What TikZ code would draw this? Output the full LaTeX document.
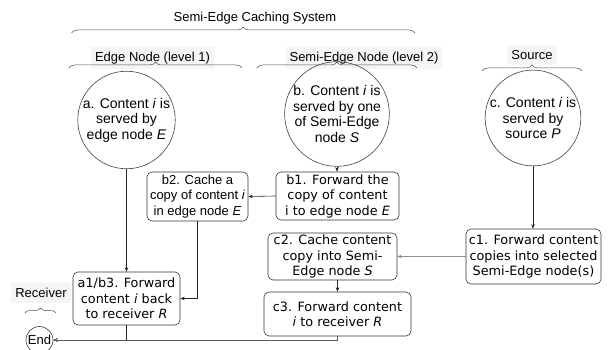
\documentclass[tikz,border=0pt]{standalone}
\usepackage{fontspec}
\setmainfont{Liberation Sans}
\newfontfamily\boxfont{DejaVu Sans}
\usetikzlibrary{arrows.meta,decorations.pathreplacing,calc}

\begin{document}
\begin{tikzpicture}[x=1pt,y=-1pt,
  line width=0.6pt,
  circ/.style={circle, draw=black!75, inner sep=0pt, align=center,
    font=\fontsize{14}{15.5}\selectfont},
  stepbox/.style={rectangle, rounded corners=5pt, draw=black!80, inner sep=0pt,
    align=center, font=\boxfont\fontsize{12.8}{15.5}\selectfont},
  arialbox/.style={stepbox, font=\fontsize{13}{15.5}\selectfont},
  hdr/.style={fill=black!4, inner xsep=4pt, inner ysep=5pt,
    font=\fontsize{13}{15}\selectfont},
  ttl/.style={inner sep=1pt, font=\fontsize{13}{15}\selectfont},
  brc/.style={draw=black!70, line width=0.5pt, decorate,
    decoration={brace, amplitude=6pt}},
  arr/.style={draw=black!85, -{Stealth[length=4.5pt,width=3.5pt]}},
  grayarr/.style={arr, draw=black!45, line width=1pt},
]
\useasboundingbox (0,0) rectangle (616,350);

% group labels and braces
\node[ttl] (title) at (255,18) {Semi-Edge Caching System};
\draw[brc] (71.5,33) -- (415,33);

\node[hdr] (hedge) at (152.5,58) {Edge Node (level 1)};
\node[hdr] (hsemi) at (364,58) {Semi-Edge Node (level 2)};
\node[hdr] (hsrc) at (532,55) {Source};
\node[hdr] (hrecv) at (41,293) {Receiver};

\draw[brc] (69,68) -- (242,68);
\draw[brc] (257,68) -- (417,68);
\draw[brc] (482,71) -- (582,71);
\draw[brc, decoration={brace, amplitude=5pt}] (25,313) -- (56,313);

% starting points
\node[circ, minimum size=90pt] (a) at (126.5,120)
  {a. Content \textit{i} is\\served by\\edge node \textit{E}};
\node[circ, minimum size=92pt] (b) at (337,114)
  {b. Content \textit{i} is\\served by one\\of Semi-Edge\\node \textit{S}};
\node[circ, minimum size=90pt] (c) at (533,118)
  {c. Content \textit{i} is\\served by\\source \textit{P}};

% process steps
\node[arialbox, minimum width=101pt, minimum height=49pt] (b2) at (197.5,196.5)
  {b2. Cache a\\copy of content \textit{i}\\in edge node \textit{E}};
\node[stepbox, minimum width=123pt, minimum height=48pt] (b1) at (337.5,196)
  {b1. Forward the\\copy of content\\i to edge node \textit{E}};
\node[stepbox, minimum width=129pt, minimum height=47pt] (c2) at (332.5,256.5)
  {c2. Cache content\\copy into Semi-\\Edge node \textit{S}};
\node[stepbox, minimum width=147pt, minimum height=44pt] (c3) at (337.5,314)
  {c3. Forward content\\\textit{i} to receiver \textit{R}};
\node[stepbox, minimum width=135pt, minimum height=55pt] (c1) at (533.5,256.5)
  {c1. Forward content\\copies into selected\\Semi-Edge node(s)};
\node[stepbox, minimum width=107pt, minimum height=53pt] (a1) at (126.5,298.5)
  {a1/b3. Forward\\content \textit{i} back\\to receiver \textit{R}};

\node[circle, draw=black!75, minimum size=27pt, inner sep=0pt,
  font=\fontsize{13}{15}\selectfont] (end) at (39.5,340) {End};

% connectors
\draw[arr] (a.south) -- (a1.north);
\draw[arr] (b.south) -- (b.south |- b1.north);
\draw[arr] (b1.west) -- (b2.east);
\draw[arr] (b2.south) |- (a1.east);
\draw[arr] (c.south) -- (c.south |- c1.north);
\draw[grayarr] (c1.west) -- (c2.east);
\draw[arr] (c2.south -| c3.north) -- (c3.north);
\draw[arr] (a1.south) |- (end.east);
\draw[arr, draw=black!65] (c3.south) |- (end.east);
\end{tikzpicture}
\end{document}
